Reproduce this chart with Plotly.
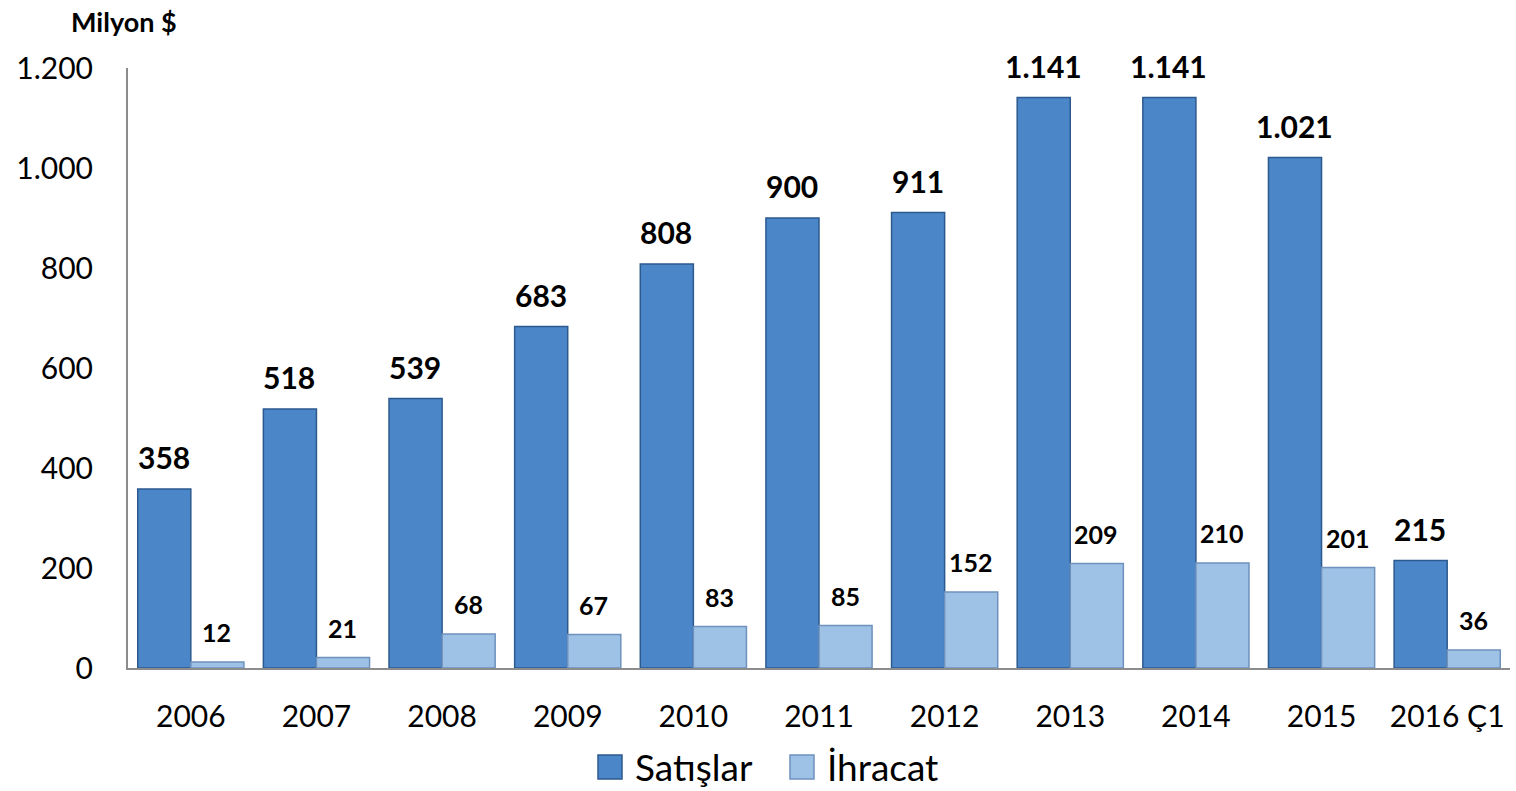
import plotly.graph_objects as go

categories = ["2006", "2007", "2008", "2009", "2010", "2011", "2012", "2013", "2014", "2015", "2016 Ç1"]
satislar = [358, 518, 539, 683, 808, 900, 911, 1141, 1141, 1021, 215]
ihracat = [12, 21, 68, 67, 83, 85, 152, 209, 210, 201, 36]
y_tickvals = [0, 200, 400, 600, 800, 1000, 1200]
y_ticktext = ["0", "200", "400", "600", "800", "1.000", "1.200"]
series_names = ["Satışlar", "İhracat"]

FONT = "Lato"
DARK = "#4A86C8"
DARK_LINE = "#2D5A8E"
LIGHT = "#9EC1E6"
LIGHT_LINE = "#6E91BD"


def fmt(v):
    return f"{v:,}".replace(",", ".")


fig = go.Figure()
fig.add_trace(go.Bar(name=series_names[0], x=categories, y=satislar, showlegend=False,
                     marker=dict(color=DARK, line=dict(color=DARK_LINE, width=1.5))))
fig.add_trace(go.Bar(name=series_names[1], x=categories, y=ihracat, showlegend=False,
                     marker=dict(color=LIGHT, line=dict(color=LIGHT_LINE, width=1.5))))

annotations = []
# category axes: annotation x given as category index
for i, v in enumerate(satislar):
    annotations.append(dict(x=i, y=v, xref="x", yref="y", text=f"<b>{fmt(v)}</b>",
                            showarrow=False, xanchor="center", yanchor="bottom",
                            xshift=-27, yshift=12,
                            font=dict(family=FONT, size=30, color="black")))
for i, v in enumerate(ihracat):
    annotations.append(dict(x=i, y=v, xref="x", yref="y", text=f"<b>{fmt(v)}</b>",
                            showarrow=False, xanchor="center", yanchor="bottom",
                            xshift=26, yshift=13,
                            font=dict(family=FONT, size=25, color="black")))
annotations.append(dict(x=-0.003, y=1.077, xref="paper", yref="paper", text="<b>Milyon $</b>",
                        showarrow=False, xanchor="center", yanchor="middle",
                        font=dict(family=FONT, size=27, color="black")))

# manual legend (paper coordinates): plot area is x 128..1510 px, y 68..668 px
W, H = 1382.0, 600.0


def px_x(p):
    return (p - 128) / W


def px_y(p):
    return (668 - p) / H


shapes = []
legend_items = [(series_names[0], DARK, DARK_LINE, 598, 635),
                (series_names[1], LIGHT, LIGHT_LINE, 790, 827)]
for name, fill, line, sx, tx in legend_items:
    shapes.append(dict(type="rect", xref="paper", yref="paper",
                       x0=px_x(sx), x1=px_x(sx + 24), y0=px_y(779), y1=px_y(755),
                       fillcolor=fill, line=dict(color=line, width=1.5)))
    annotations.append(dict(x=px_x(tx - 2), y=px_y(766), xref="paper", yref="paper", text=name,
                            showarrow=False, xanchor="left", yanchor="middle",
                            font=dict(family=FONT, size=37, color="black")))

fig.update_layout(
    width=1516, height=791,
    margin=dict(l=128, r=6, t=68, b=123),
    paper_bgcolor="white", plot_bgcolor="white",
    barmode="group", bargap=0.155, bargroupgap=0,
    font=dict(family=FONT, color="black"),
    showlegend=False,
    annotations=annotations,
    shapes=shapes,
)
fig.update_yaxes(range=[0, 1200], tickvals=y_tickvals, ticktext=y_ticktext, automargin=False,
                 showgrid=False, zeroline=False, showline=True, linecolor="#8C8C8C", linewidth=2,
                 ticks="outside", ticklen=27, tickcolor="rgba(0,0,0,0)",
                 tickfont=dict(family=FONT, size=30, color="black"))
fig.update_xaxes(type="category", automargin=False,
                 showgrid=False, showline=True, linecolor="#8C8C8C", linewidth=2,
                 ticks="outside", ticklen=21, tickcolor="rgba(0,0,0,0)",
                 tickfont=dict(family=FONT, size=30, color="black"))

fig.write_html("out.html", config={"displayModeBar": False},
               post_script="document.body.style.margin='0';document.body.style.overflow='hidden';")
